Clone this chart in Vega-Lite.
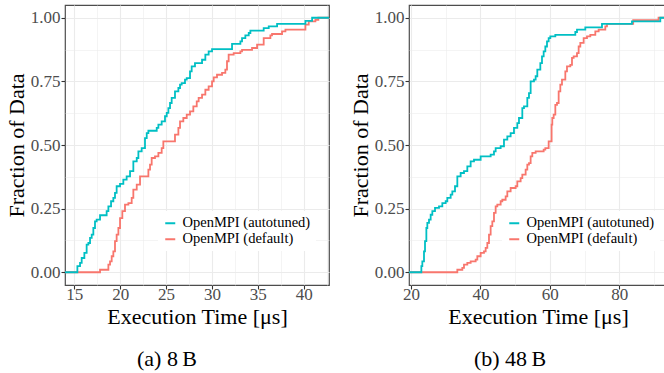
{
  "$schema": "https://vega.github.io/schema/vega-lite/v6.json",
  "padding": {"left": 4, "top": 4, "right": 0, "bottom": 0},
  "datasets": {
    "a": [
      {"s":"OpenMPI (default)","x":13.98,"y":0},{"s":"OpenMPI (default)","x":17.80,"y":0.010},{"s":"OpenMPI (default)","x":18.71,"y":0.030},{"s":"OpenMPI (default)","x":18.89,"y":0.043},{"s":"OpenMPI (default)","x":19.07,"y":0.063},{"s":"OpenMPI (default)","x":19.25,"y":0.082},{"s":"OpenMPI (default)","x":19.43,"y":0.122},{"s":"OpenMPI (default)","x":19.61,"y":0.148},{"s":"OpenMPI (default)","x":19.80,"y":0.174},{"s":"OpenMPI (default)","x":19.98,"y":0.213},{"s":"OpenMPI (default)","x":20.23,"y":0.240},{"s":"OpenMPI (default)","x":20.52,"y":0.266},{"s":"OpenMPI (default)","x":20.89,"y":0.272},{"s":"OpenMPI (default)","x":21.25,"y":0.292},{"s":"OpenMPI (default)","x":21.43,"y":0.325},{"s":"OpenMPI (default)","x":21.80,"y":0.344},{"s":"OpenMPI (default)","x":22.16,"y":0.377},{"s":"OpenMPI (default)","x":23.07,"y":0.403},{"s":"OpenMPI (default)","x":23.25,"y":0.423},{"s":"OpenMPI (default)","x":23.43,"y":0.449},{"s":"OpenMPI (default)","x":23.79,"y":0.455},{"s":"OpenMPI (default)","x":24.16,"y":0.469},{"s":"OpenMPI (default)","x":24.52,"y":0.488},{"s":"OpenMPI (default)","x":24.70,"y":0.514},{"s":"OpenMPI (default)","x":25.97,"y":0.541},{"s":"OpenMPI (default)","x":26.34,"y":0.567},{"s":"OpenMPI (default)","x":26.52,"y":0.593},{"s":"OpenMPI (default)","x":26.88,"y":0.606},{"s":"OpenMPI (default)","x":27.25,"y":0.619},{"s":"OpenMPI (default)","x":27.61,"y":0.632},{"s":"OpenMPI (default)","x":27.97,"y":0.652},{"s":"OpenMPI (default)","x":28.34,"y":0.671},{"s":"OpenMPI (default)","x":28.55,"y":0.685},{"s":"OpenMPI (default)","x":28.92,"y":0.698},{"s":"OpenMPI (default)","x":29.28,"y":0.717},{"s":"OpenMPI (default)","x":29.64,"y":0.730},{"s":"OpenMPI (default)","x":30.01,"y":0.750},{"s":"OpenMPI (default)","x":30.19,"y":0.766},{"s":"OpenMPI (default)","x":30.55,"y":0.776},{"s":"OpenMPI (default)","x":31.10,"y":0.783},{"s":"OpenMPI (default)","x":31.46,"y":0.796},{"s":"OpenMPI (default)","x":31.64,"y":0.829},{"s":"OpenMPI (default)","x":31.82,"y":0.855},{"s":"OpenMPI (default)","x":32.37,"y":0.861},{"s":"OpenMPI (default)","x":33.10,"y":0.868},{"s":"OpenMPI (default)","x":33.28,"y":0.874},{"s":"OpenMPI (default)","x":34.37,"y":0.881},{"s":"OpenMPI (default)","x":34.92,"y":0.894},{"s":"OpenMPI (default)","x":35.64,"y":0.920},{"s":"OpenMPI (default)","x":36.37,"y":0.931},{"s":"OpenMPI (default)","x":36.55,"y":0.936},{"s":"OpenMPI (default)","x":37.64,"y":0.946},{"s":"OpenMPI (default)","x":38.01,"y":0.953},{"s":"OpenMPI (default)","x":40.19,"y":0.973},{"s":"OpenMPI (default)","x":40.55,"y":0.986},{"s":"OpenMPI (default)","x":41.28,"y":0.992},{"s":"OpenMPI (default)","x":41.6,"y":1.0},{"s":"OpenMPI (default)","x":42.76,"y":1.0},
      {"s":"OpenMPI (autotuned)","x":13.98,"y":0},{"s":"OpenMPI (autotuned)","x":15.33,"y":0.024},{"s":"OpenMPI (autotuned)","x":15.62,"y":0.037},{"s":"OpenMPI (autotuned)","x":15.80,"y":0.056},{"s":"OpenMPI (autotuned)","x":16.09,"y":0.076},{"s":"OpenMPI (autotuned)","x":16.34,"y":0.109},{"s":"OpenMPI (autotuned)","x":16.53,"y":0.115},{"s":"OpenMPI (autotuned)","x":16.71,"y":0.135},{"s":"OpenMPI (autotuned)","x":16.89,"y":0.148},{"s":"OpenMPI (autotuned)","x":17.07,"y":0.174},{"s":"OpenMPI (autotuned)","x":17.25,"y":0.200},{"s":"OpenMPI (autotuned)","x":17.43,"y":0.207},{"s":"OpenMPI (autotuned)","x":17.80,"y":0.224},{"s":"OpenMPI (autotuned)","x":18.52,"y":0.240},{"s":"OpenMPI (autotuned)","x":18.71,"y":0.259},{"s":"OpenMPI (autotuned)","x":19.00,"y":0.279},{"s":"OpenMPI (autotuned)","x":19.25,"y":0.292},{"s":"OpenMPI (autotuned)","x":19.43,"y":0.312},{"s":"OpenMPI (autotuned)","x":19.61,"y":0.338},{"s":"OpenMPI (autotuned)","x":19.98,"y":0.347},{"s":"OpenMPI (autotuned)","x":20.34,"y":0.364},{"s":"OpenMPI (autotuned)","x":20.70,"y":0.377},{"s":"OpenMPI (autotuned)","x":21.07,"y":0.397},{"s":"OpenMPI (autotuned)","x":21.43,"y":0.436},{"s":"OpenMPI (autotuned)","x":21.80,"y":0.449},{"s":"OpenMPI (autotuned)","x":21.98,"y":0.475},{"s":"OpenMPI (autotuned)","x":22.34,"y":0.488},{"s":"OpenMPI (autotuned)","x":22.70,"y":0.527},{"s":"OpenMPI (autotuned)","x":22.89,"y":0.547},{"s":"OpenMPI (autotuned)","x":23.07,"y":0.556},{"s":"OpenMPI (autotuned)","x":23.98,"y":0.567},{"s":"OpenMPI (autotuned)","x":24.16,"y":0.580},{"s":"OpenMPI (autotuned)","x":24.52,"y":0.593},{"s":"OpenMPI (autotuned)","x":24.88,"y":0.613},{"s":"OpenMPI (autotuned)","x":25.07,"y":0.626},{"s":"OpenMPI (autotuned)","x":25.25,"y":0.645},{"s":"OpenMPI (autotuned)","x":25.43,"y":0.665},{"s":"OpenMPI (autotuned)","x":25.61,"y":0.685},{"s":"OpenMPI (autotuned)","x":25.97,"y":0.711},{"s":"OpenMPI (autotuned)","x":26.34,"y":0.724},{"s":"OpenMPI (autotuned)","x":26.52,"y":0.737},{"s":"OpenMPI (autotuned)","x":26.70,"y":0.743},{"s":"OpenMPI (autotuned)","x":27.06,"y":0.757},{"s":"OpenMPI (autotuned)","x":27.25,"y":0.763},{"s":"OpenMPI (autotuned)","x":27.61,"y":0.789},{"s":"OpenMPI (autotuned)","x":27.79,"y":0.809},{"s":"OpenMPI (autotuned)","x":28.15,"y":0.822},{"s":"OpenMPI (autotuned)","x":28.92,"y":0.835},{"s":"OpenMPI (autotuned)","x":29.28,"y":0.855},{"s":"OpenMPI (autotuned)","x":29.64,"y":0.868},{"s":"OpenMPI (autotuned)","x":30.01,"y":0.877},{"s":"OpenMPI (autotuned)","x":32.19,"y":0.897},{"s":"OpenMPI (autotuned)","x":33.10,"y":0.907},{"s":"OpenMPI (autotuned)","x":33.28,"y":0.920},{"s":"OpenMPI (autotuned)","x":33.64,"y":0.931},{"s":"OpenMPI (autotuned)","x":34.01,"y":0.940},{"s":"OpenMPI (autotuned)","x":34.19,"y":0.949},{"s":"OpenMPI (autotuned)","x":35.64,"y":0.959},{"s":"OpenMPI (autotuned)","x":36.19,"y":0.966},{"s":"OpenMPI (autotuned)","x":37.10,"y":0.976},{"s":"OpenMPI (autotuned)","x":40.19,"y":0.988},{"s":"OpenMPI (autotuned)","x":40.92,"y":1.0},{"s":"OpenMPI (autotuned)","x":42.76,"y":1.0}
    ],
    "b": [
      {"s":"OpenMPI (default)","x":19.42,"y":0},{"s":"OpenMPI (default)","x":33.34,"y":0.010},{"s":"OpenMPI (default)","x":34.78,"y":0.017},{"s":"OpenMPI (default)","x":35.26,"y":0.030},{"s":"OpenMPI (default)","x":36.22,"y":0.037},{"s":"OpenMPI (default)","x":37.18,"y":0.043},{"s":"OpenMPI (default)","x":38.62,"y":0.050},{"s":"OpenMPI (default)","x":39.10,"y":0.063},{"s":"OpenMPI (default)","x":40.06,"y":0.076},{"s":"OpenMPI (default)","x":41.02,"y":0.082},{"s":"OpenMPI (default)","x":41.50,"y":0.096},{"s":"OpenMPI (default)","x":41.98,"y":0.115},{"s":"OpenMPI (default)","x":42.46,"y":0.148},{"s":"OpenMPI (default)","x":42.94,"y":0.181},{"s":"OpenMPI (default)","x":43.42,"y":0.200},{"s":"OpenMPI (default)","x":43.90,"y":0.233},{"s":"OpenMPI (default)","x":44.38,"y":0.259},{"s":"OpenMPI (default)","x":44.86,"y":0.266},{"s":"OpenMPI (default)","x":45.82,"y":0.279},{"s":"OpenMPI (default)","x":46.30,"y":0.285},{"s":"OpenMPI (default)","x":47.26,"y":0.298},{"s":"OpenMPI (default)","x":47.74,"y":0.318},{"s":"OpenMPI (default)","x":48.70,"y":0.331},{"s":"OpenMPI (default)","x":50.14,"y":0.338},{"s":"OpenMPI (default)","x":50.62,"y":0.357},{"s":"OpenMPI (default)","x":51.58,"y":0.370},{"s":"OpenMPI (default)","x":52.06,"y":0.384},{"s":"OpenMPI (default)","x":53.02,"y":0.403},{"s":"OpenMPI (default)","x":53.50,"y":0.423},{"s":"OpenMPI (default)","x":53.98,"y":0.429},{"s":"OpenMPI (default)","x":54.46,"y":0.455},{"s":"OpenMPI (default)","x":54.94,"y":0.469},{"s":"OpenMPI (default)","x":55.90,"y":0.475},{"s":"OpenMPI (default)","x":58.21,"y":0.482},{"s":"OpenMPI (default)","x":58.69,"y":0.488},{"s":"OpenMPI (default)","x":59.65,"y":0.514},{"s":"OpenMPI (default)","x":60.5,"y":0.58},{"s":"OpenMPI (default)","x":60.7,"y":0.606},{"s":"OpenMPI (default)","x":61.09,"y":0.619},{"s":"OpenMPI (default)","x":61.57,"y":0.658},{"s":"OpenMPI (default)","x":62.05,"y":0.665},{"s":"OpenMPI (default)","x":62.53,"y":0.711},{"s":"OpenMPI (default)","x":63.01,"y":0.737},{"s":"OpenMPI (default)","x":63.49,"y":0.757},{"s":"OpenMPI (default)","x":64.45,"y":0.789},{"s":"OpenMPI (default)","x":64.93,"y":0.809},{"s":"OpenMPI (default)","x":65.89,"y":0.815},{"s":"OpenMPI (default)","x":66.37,"y":0.842},{"s":"OpenMPI (default)","x":66.85,"y":0.848},{"s":"OpenMPI (default)","x":67.81,"y":0.861},{"s":"OpenMPI (default)","x":68.29,"y":0.887},{"s":"OpenMPI (default)","x":68.77,"y":0.901},{"s":"OpenMPI (default)","x":69.73,"y":0.920},{"s":"OpenMPI (default)","x":70.69,"y":0.927},{"s":"OpenMPI (default)","x":71.65,"y":0.933},{"s":"OpenMPI (default)","x":73.09,"y":0.946},{"s":"OpenMPI (default)","x":74.05,"y":0.953},{"s":"OpenMPI (default)","x":75.97,"y":0.966},{"s":"OpenMPI (default)","x":76.45,"y":0.976},{"s":"OpenMPI (default)","x":84.0,"y":0.99},{"s":"OpenMPI (default)","x":91.3,"y":1.0},{"s":"OpenMPI (default)","x":93.74,"y":1.0},
      {"s":"OpenMPI (autotuned)","x":19.42,"y":0},{"s":"OpenMPI (autotuned)","x":22.98,"y":0.024},{"s":"OpenMPI (autotuned)","x":23.26,"y":0.043},{"s":"OpenMPI (autotuned)","x":23.74,"y":0.082},{"s":"OpenMPI (autotuned)","x":24.03,"y":0.122},{"s":"OpenMPI (autotuned)","x":24.42,"y":0.174},{"s":"OpenMPI (autotuned)","x":24.70,"y":0.194},{"s":"OpenMPI (autotuned)","x":25.18,"y":0.207},{"s":"OpenMPI (autotuned)","x":25.66,"y":0.226},{"s":"OpenMPI (autotuned)","x":26.14,"y":0.240},{"s":"OpenMPI (autotuned)","x":26.91,"y":0.253},{"s":"OpenMPI (autotuned)","x":28.06,"y":0.259},{"s":"OpenMPI (autotuned)","x":29.02,"y":0.272},{"s":"OpenMPI (autotuned)","x":29.98,"y":0.279},{"s":"OpenMPI (autotuned)","x":30.46,"y":0.292},{"s":"OpenMPI (autotuned)","x":31.42,"y":0.305},{"s":"OpenMPI (autotuned)","x":31.90,"y":0.318},{"s":"OpenMPI (autotuned)","x":32.67,"y":0.338},{"s":"OpenMPI (autotuned)","x":33.34,"y":0.377},{"s":"OpenMPI (autotuned)","x":34.30,"y":0.390},{"s":"OpenMPI (autotuned)","x":35.26,"y":0.397},{"s":"OpenMPI (autotuned)","x":36.22,"y":0.416},{"s":"OpenMPI (autotuned)","x":37.18,"y":0.436},{"s":"OpenMPI (autotuned)","x":38.14,"y":0.442},{"s":"OpenMPI (autotuned)","x":40.06,"y":0.455},{"s":"OpenMPI (autotuned)","x":42.94,"y":0.462},{"s":"OpenMPI (autotuned)","x":43.90,"y":0.475},{"s":"OpenMPI (autotuned)","x":44.38,"y":0.488},{"s":"OpenMPI (autotuned)","x":45.82,"y":0.495},{"s":"OpenMPI (autotuned)","x":46.78,"y":0.521},{"s":"OpenMPI (autotuned)","x":47.74,"y":0.534},{"s":"OpenMPI (autotuned)","x":48.70,"y":0.547},{"s":"OpenMPI (autotuned)","x":49.66,"y":0.567},{"s":"OpenMPI (autotuned)","x":50.62,"y":0.586},{"s":"OpenMPI (autotuned)","x":51.10,"y":0.606},{"s":"OpenMPI (autotuned)","x":52.06,"y":0.645},{"s":"OpenMPI (autotuned)","x":52.54,"y":0.652},{"s":"OpenMPI (autotuned)","x":53.50,"y":0.685},{"s":"OpenMPI (autotuned)","x":53.98,"y":0.704},{"s":"OpenMPI (autotuned)","x":54.46,"y":0.750},{"s":"OpenMPI (autotuned)","x":55.42,"y":0.757},{"s":"OpenMPI (autotuned)","x":55.90,"y":0.770},{"s":"OpenMPI (autotuned)","x":56.38,"y":0.796},{"s":"OpenMPI (autotuned)","x":57.25,"y":0.822},{"s":"OpenMPI (autotuned)","x":57.73,"y":0.848},{"s":"OpenMPI (autotuned)","x":58.21,"y":0.868},{"s":"OpenMPI (autotuned)","x":58.69,"y":0.887},{"s":"OpenMPI (autotuned)","x":59.17,"y":0.907},{"s":"OpenMPI (autotuned)","x":59.65,"y":0.920},{"s":"OpenMPI (autotuned)","x":60.13,"y":0.927},{"s":"OpenMPI (autotuned)","x":61.57,"y":0.933},{"s":"OpenMPI (autotuned)","x":67.33,"y":0.944},{"s":"OpenMPI (autotuned)","x":67.81,"y":0.953},{"s":"OpenMPI (autotuned)","x":70.21,"y":0.962},{"s":"OpenMPI (autotuned)","x":75.01,"y":0.976},{"s":"OpenMPI (autotuned)","x":83.65,"y":0.986},{"s":"OpenMPI (autotuned)","x":91.81,"y":1.0},{"s":"OpenMPI (autotuned)","x":93.74,"y":1.0}
    ]
  },
  "spacing": 18,
  "resolve": {"scale": {"x": "independent", "y": "independent", "color": "independent"}, "legend": {"color": "independent"}},
  "hconcat": [
    {
      "data": {"name": "a"},
      "width": 264,
      "height": 280,
      "title": {"text": "(a) 8\u2009B", "orient": "bottom", "anchor": "middle", "dx": -30, "offset": 22, "fontSize": 22, "fontWeight": "normal", "font": "Liberation Serif", "color": "black"},
      "encoding": {
        "x": {"field": "x", "type": "quantitative", "scale": {"domain": [13.98, 42.76], "nice": false, "zero": false},
          "axis": {"title": "Execution Time [μs]", "values": [15,17.5,20,22.5,25,27.5,30,32.5,35,37.5,40,42.5], "format": "d",
            "labelExpr": "datum.value % 5 == 0 ? datum.label : ''", "labelPadding": -3, "titlePadding": 4,
            "tickOpacity": {"condition": {"test": "datum.value % 5 == 0", "value": 1}, "value": 0},
            "gridWidth": {"condition": {"test": "datum.value % 5 == 0", "value": 1.1}, "value": 0.55}}},
        "y": {"field": "y", "type": "quantitative", "scale": {"domain": [-0.05, 1.05], "nice": false, "zero": false},
          "axis": {"title": "Fraction of Data", "values": [0,0.125,0.25,0.375,0.5,0.625,0.75,0.875,1], "format": ".2f",
            "labelExpr": "(datum.value * 4) % 1 == 0 ? datum.label : ''",
            "tickOpacity": {"condition": {"test": "(datum.value * 4) % 1 == 0", "value": 1}, "value": 0},
            "gridWidth": {"condition": {"test": "(datum.value * 4) % 1 == 0", "value": 1.1}, "value": 0.55}}},
        "color": {"field": "s", "type": "nominal",
          "scale": {"domain": ["OpenMPI (autotuned)", "OpenMPI (default)"], "range": ["#00BFC4", "#F8766D"]},
          "legend": {"orient": "none", "legendX": 93, "legendY": 206}}
      },
      "layer": [
        {"transform": [{"filter": "datum.s == 'OpenMPI (default)'"}], "mark": {"type": "line", "interpolate": "step-after", "strokeWidth": 1.8, "clip": true}},
        {"transform": [{"filter": "datum.s == 'OpenMPI (autotuned)'"}], "mark": {"type": "line", "interpolate": "step-after", "strokeWidth": 1.8, "clip": true}}
      ]
    },
    {
      "data": {"name": "b"},
      "width": 258,
      "height": 280,
      "title": {"text": "(b) 48\u2009B", "orient": "bottom", "anchor": "middle", "dx": -28, "offset": 22, "fontSize": 22, "fontWeight": "normal", "font": "Liberation Serif", "color": "black"},
      "encoding": {
        "x": {"field": "x", "type": "quantitative", "scale": {"domain": [19.42, 93.74], "nice": false, "zero": false},
          "axis": {"title": "Execution Time [μs]", "values": [20,30,40,50,60,70,80,90], "format": "d",
            "labelExpr": "datum.value % 20 == 0 ? datum.label : ''", "labelPadding": -3, "titlePadding": 4,
            "tickOpacity": {"condition": {"test": "datum.value % 20 == 0", "value": 1}, "value": 0},
            "gridWidth": {"condition": {"test": "datum.value % 20 == 0", "value": 1.1}, "value": 0.55}}},
        "y": {"field": "y", "type": "quantitative", "scale": {"domain": [-0.05, 1.05], "nice": false, "zero": false},
          "axis": {"title": "Fraction of Data", "values": [0,0.125,0.25,0.375,0.5,0.625,0.75,0.875,1], "format": ".2f",
            "labelExpr": "(datum.value * 4) % 1 == 0 ? datum.label : ''",
            "tickOpacity": {"condition": {"test": "(datum.value * 4) % 1 == 0", "value": 1}, "value": 0},
            "gridWidth": {"condition": {"test": "(datum.value * 4) % 1 == 0", "value": 1.1}, "value": 0.55}}},
        "color": {"field": "s", "type": "nominal",
          "scale": {"domain": ["OpenMPI (autotuned)", "OpenMPI (default)"], "range": ["#00BFC4", "#F8766D"]},
          "legend": {"orient": "none", "legendX": 93, "legendY": 206}}
      },
      "layer": [
        {"transform": [{"filter": "datum.s == 'OpenMPI (default)'"}], "mark": {"type": "line", "interpolate": "step-after", "strokeWidth": 1.8, "clip": true}},
        {"transform": [{"filter": "datum.s == 'OpenMPI (autotuned)'"}], "mark": {"type": "line", "interpolate": "step-after", "strokeWidth": 1.8, "clip": true}}
      ]
    }
  ],
  "config": {
    "font": "Liberation Serif",
    "view": {"stroke": "#4d4d4d", "strokeWidth": 1.2},
    "axis": {"domain": false, "gridColor": "#EBEBEB", "tickColor": "#333333", "tickSize": 4, "tickWidth": 1.1,
      "labelFont": "Liberation Serif", "labelFontSize": 17, "labelColor": "#4D4D4D", "labelPadding": 1,
      "labelFlush": false, "labelOverlap": false,
      "titleFont": "Liberation Serif", "titleFontSize": 22, "titleFontWeight": "normal", "titleColor": "black", "titlePadding": 2},
    "legend": {"title": null, "symbolType": "stroke", "symbolSize": 100, "symbolStrokeWidth": 2,
      "labelFont": "Liberation Serif", "labelFontSize": 14.5, "labelColor": "black", "fillColor": "white",
      "padding": 5, "rowPadding": 1, "labelOffset": 5}
  }
}
